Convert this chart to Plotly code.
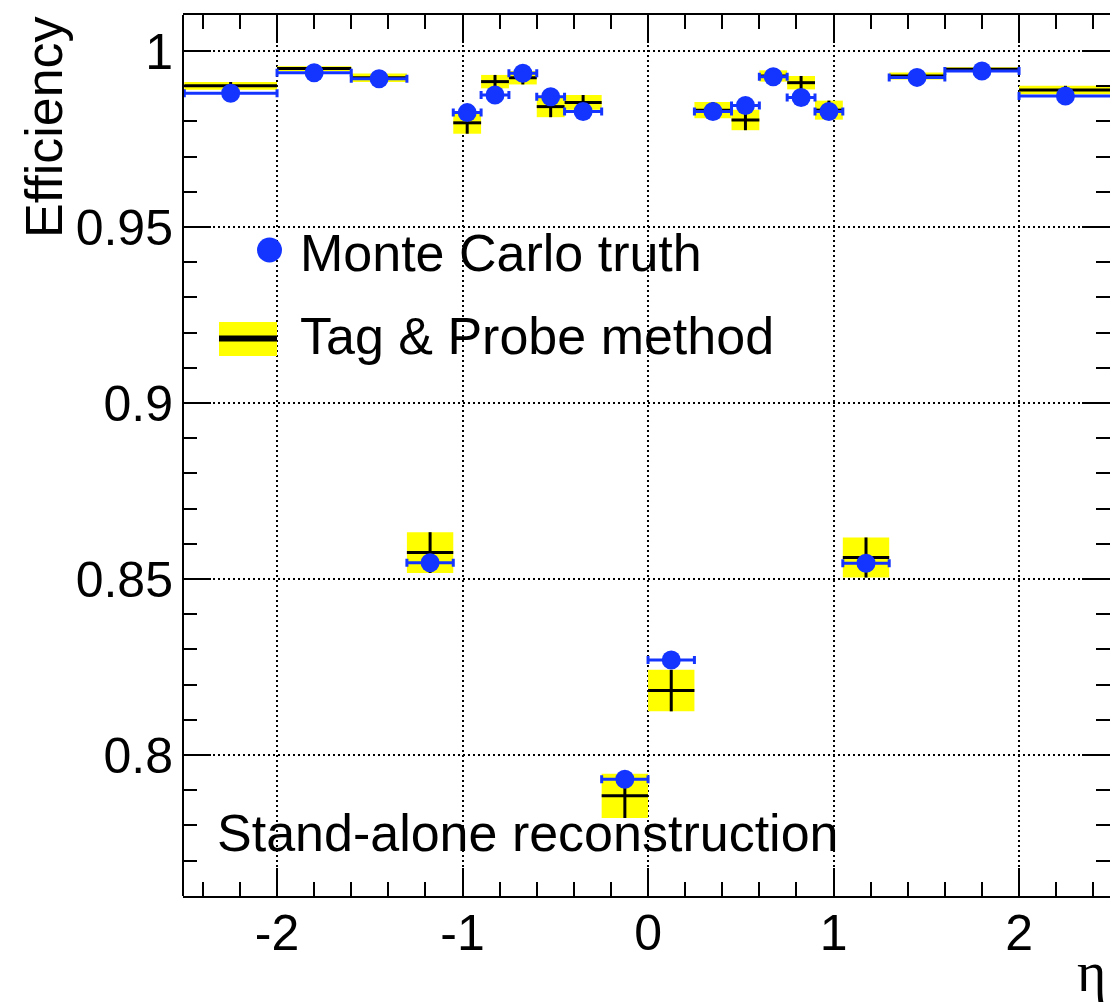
import plotly.graph_objects as go

# eta binning of the efficiency measurement
bin_edges = [-2.5, -2.0, -1.6, -1.3, -1.05, -0.9, -0.75, -0.6, -0.45, -0.25, 0.0,
             0.25, 0.45, 0.6, 0.75, 0.9, 1.05, 1.3, 1.6, 2.0, 2.5]

# Monte Carlo truth efficiency per bin
mc_eff = [0.9880, 0.9938, 0.9921, 0.8546, 0.9825, 0.9875, 0.9937, 0.9870, 0.9828, 0.7931,
          0.8270, 0.9828, 0.9845, 0.9927, 0.9868, 0.9828, 0.8545, 0.9925, 0.9943, 0.9872]

# Tag & Probe efficiency and its uncertainty per bin
tp_eff = [0.9901, 0.9950, 0.9924, 0.8575, 0.9796, 0.9913, 0.9924, 0.9842, 0.9854, 0.7884,
          0.8183, 0.9832, 0.9804, 0.9929, 0.9910, 0.9832, 0.8561, 0.9929, 0.9948, 0.9889]
tp_err = [0.0011, 0.0007, 0.0012, 0.0058, 0.0031, 0.0019, 0.0019, 0.0030, 0.0021, 0.0063,
          0.0059, 0.0023, 0.0029, 0.0016, 0.0019, 0.0027, 0.0057, 0.0010, 0.0006, 0.0012]

x_tick_vals = [-2, -1, 0, 1, 2]
x_tick_text = ["-2", "-1", "0", "1", "2"]
y_tick_vals = [0.8, 0.85, 0.9, 0.95, 1.0]
y_tick_text = ["0.8", "0.85", "0.9", "0.95", "1"]

centers = [(a + b) / 2 for a, b in zip(bin_edges[:-1], bin_edges[1:])]
widths = [b - a for a, b in zip(bin_edges[:-1], bin_edges[1:])]
half_widths = [w / 2 for w in widths]

FONT = "Liberation Sans, Arial, Helvetica, sans-serif"
BLUE = "#1435ff"
YELLOW = "#ffff00"

W, H = 1110, 1002
ML, MR, MT, MB = 183, 0, 15, 106
PW, PH = W - ML - MR, H - MT - MB
X_SCALE = 185.5  # px per unit of eta


def px_x(p):
    return (p - ML) / PW


def px_y(p):
    return (H - MB - p) / PH


fig = go.Figure()

# Tag & Probe uncertainty boxes
fig.add_trace(go.Bar(
    x=centers, y=[2 * e for e in tp_err], base=[v - e for v, e in zip(tp_eff, tp_err)],
    width=widths, marker=dict(color=YELLOW, line=dict(width=0)),
    showlegend=False, hoverinfo="skip",
))

# Tag & Probe central values (cross: bin width + uncertainty)
fig.add_trace(go.Scatter(
    x=centers, y=tp_eff, mode="markers", marker=dict(size=0.1, color="black", opacity=0),
    error_x=dict(type="data", array=half_widths, symmetric=True, color="black", thickness=3, width=0),
    error_y=dict(type="data", array=tp_err, symmetric=True, color="black", thickness=3, width=0),
    showlegend=False, hoverinfo="skip",
))

# Monte Carlo truth points
fig.add_trace(go.Scatter(
    x=centers, y=mc_eff, mode="markers", marker=dict(size=19, color=BLUE),
    error_x=dict(type="data", array=half_widths, symmetric=True, color=BLUE, thickness=3, width=4),
    showlegend=False,
))

tick_common = dict(ticks="inside", tickcolor="black", tickwidth=1.5, ticklen=28,
                   mirror="allticks",
                   showgrid=True, gridcolor="black", gridwidth=1.5, griddash="2px,3px",
                   zeroline=False, tickfont=dict(family=FONT, size=50, color="black"))

x0 = -2.507
fig.update_xaxes(range=[x0, x0 + PW / X_SCALE], tickvals=x_tick_vals, ticktext=x_tick_text,
                 showline=True, linecolor="black", linewidth=2, ticklabelstandoff=-8,
                 minor=dict(dtick=0.2, tick0=0, ticks="inside", ticklen=14, tickcolor="black",
                            tickwidth=1.5, showgrid=False),
                 **tick_common)
fig.update_yaxes(range=[1 - (H - MB - 51) / 3520, 1 + (51 - MT) / 3520],
                 tickvals=y_tick_vals, ticktext=y_tick_text, showline=False,
                 ticklabelstandoff=9,
                 minor=dict(dtick=0.01, tick0=0, ticks="inside", ticklen=14, tickcolor="black",
                            tickwidth=1.5, showgrid=False),
                 **tick_common)

shapes = [
    # left frame edge (the right edge lies just beyond the canvas)
    dict(type="line", xref="paper", yref="paper", x0=0, x1=0, y0=0, y1=1,
         line=dict(color="black", width=2), layer="above"),
    # legend swatches
    dict(type="circle", xref="paper", yref="paper",
         x0=px_x(257), x1=px_x(282), y0=px_y(262.5), y1=px_y(237.5),
         fillcolor=BLUE, line=dict(width=0)),
    dict(type="rect", xref="paper", yref="paper",
         x0=px_x(219), x1=px_x(277), y0=px_y(356), y1=px_y(322),
         fillcolor=YELLOW, line=dict(width=0)),
    dict(type="line", xref="paper", yref="paper",
         x0=px_x(219), x1=px_x(277), y0=px_y(338.5), y1=px_y(338.5),
         line=dict(color="black", width=6)),
]

text_font = dict(family=FONT, size=52, color="black")
annotations = [
    dict(text="Monte Carlo truth", x=px_x(298), y=px_y(253), xref="paper", yref="paper",
         xanchor="left", yanchor="middle", showarrow=False, font=text_font),
    dict(text="Tag &amp; Probe method", x=px_x(298), y=px_y(336), xref="paper", yref="paper",
         xanchor="left", yanchor="middle", showarrow=False, font=text_font),
    dict(text="Stand-alone reconstruction", x=px_x(215), y=px_y(833), xref="paper", yref="paper",
         xanchor="left", yanchor="middle", showarrow=False, font=text_font),
    dict(text="Efficiency", textangle=-90, x=px_x(44), y=px_y(14), xref="paper", yref="paper",
         xanchor="center", yanchor="top", showarrow=False, font=text_font),
    dict(text="η", x=px_x(1108), y=px_y(972), xref="paper", yref="paper",
         xanchor="right", yanchor="middle", showarrow=False,
         font=dict(family="Liberation Serif, Times New Roman, serif", size=56, color="black")),
]

fig.update_layout(
    width=W, height=H, margin=dict(l=ML, r=MR, t=MT, b=MB, pad=0),
    paper_bgcolor="white", plot_bgcolor="white",
    shapes=shapes, annotations=annotations, showlegend=False, barmode="overlay",
)

fig.write_html("out.html", include_plotlyjs=True)
